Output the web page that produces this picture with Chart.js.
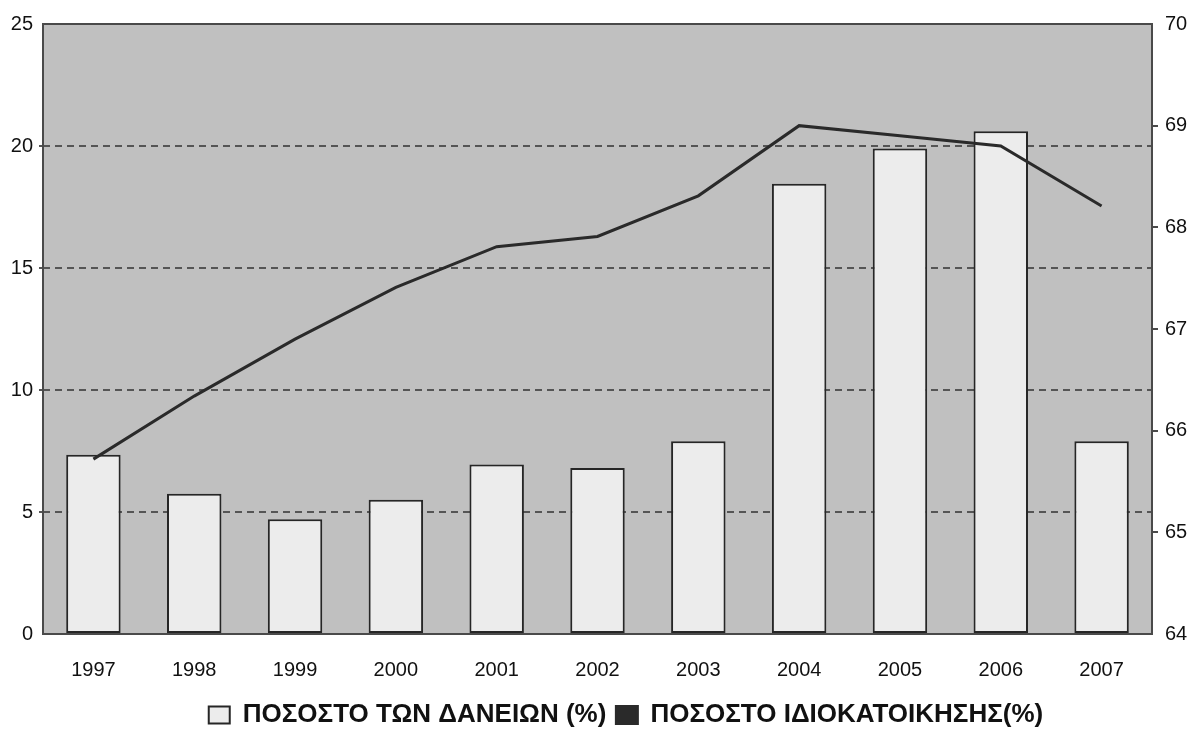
<!DOCTYPE html>
<html>
<head>
<meta charset="utf-8">
<title>Ποσοστό δανείων και ιδιοκατοίκησης 1997-2007</title>
<script src="https://cdn.jsdelivr.net/npm/chart.js@4.4.0/dist/chart.umd.min.js"></script>
<style>
  html, body { margin: 0; padding: 0; background: #fff; }
  #wrap { width: 1192px; height: 740px; }
</style>
</head>
<body>
<div id="wrap"><canvas id="myChart" width="1192" height="740"></canvas></div>
<script>
// years on the x axis
const years = ['1997', '1998', '1999', '2000', '2001', '2002', '2003', '2004', '2005', '2006', '2007'];
// bars, left axis (%)
const loanShare = [7.35, 5.75, 4.7, 5.5, 6.95, 6.8, 7.9, 18.45, 19.9, 20.6, 7.9];
// line, right axis (%)
const homeOwnership = [65.72, 66.34, 66.9, 67.41, 67.81, 67.91, 68.31, 69.0, 68.9, 68.8, 68.21];
const leftTicks = [0, 5, 10, 15, 20, 25];
const rightTicks = [64, 65, 66, 67, 68, 69, 70];

const tickFont = { family: "'Liberation Sans', Arial, sans-serif", size: 20 };

// grey plot background + dark frame around the plot area
const plotFrame = {
    id: 'plotFrame',
    beforeDraw(chart) {
        const { ctx, chartArea: a } = chart;
        ctx.save();
        ctx.fillStyle = '#c0c0c0';
        ctx.fillRect(a.left, a.top, a.width, a.height);
        ctx.restore();
    },
    beforeDatasetsDraw(chart) {
        const { ctx, chartArea: a } = chart;
        ctx.save();
        ctx.strokeStyle = '#4a4a4a';
        ctx.lineWidth = 2;
        ctx.strokeRect(a.left, a.top, a.width, a.height);
        ctx.restore();
    }
};

// legend sits a little right of centre
const legendNudge = {
    id: 'legendNudge',
    afterLayout(chart) {
        if (chart.legend) {
            chart.legend.left += 30;
            chart.legend.right += 30;
        }
    }
};

const ctx = document.getElementById('myChart').getContext('2d');

const myChart = new Chart(ctx, {
    type: 'bar',
    data: {
        labels: years,
        datasets: [{
            type: 'bar',
            label: 'ΠΟΣΟΣΤΟ ΤΩΝ ΔΑΝΕΙΩΝ (%)',
            data: loanShare,
            yAxisID: 'y',
            backgroundColor: '#ececec',
            borderColor: '#262626',
            borderWidth: 2,
            borderSkipped: false,
            categoryPercentage: 1,
            barPercentage: 0.54,
            order: 1
        }, {
            type: 'line',
            label: 'ΠΟΣΟΣΤΟ ΙΔΙΟΚΑΤΟΙΚΗΣΗΣ(%)',
            data: homeOwnership,
            yAxisID: 'y1',
            borderColor: '#2a2a2a',
            backgroundColor: '#2a2a2a',
            borderWidth: 3,
            pointRadius: 0,
            tension: 0,
            order: 0
        }]
    },
    options: {
        responsive: false,
        animation: false,
        devicePixelRatio: 1,
        layout: { padding: { top: 24, bottom: 2, left: 0, right: 0 } },
        plugins: {
            tooltip: { enabled: false },
            legend: {
                position: 'bottom',
                labels: {
                    color: '#111',
                    font: { family: "'Liberation Sans', Arial, sans-serif", size: 26, weight: 'bold' },
                    boxWidth: 21,
                    boxHeight: 17,
                    padding: 10,
                    sort: (a, b) => a.datasetIndex - b.datasetIndex
                }
            }
        },
        scales: {
            x: {
                grid: { display: false },
                border: { display: false },
                ticks: { color: '#111', font: tickFont, padding: 16, maxRotation: 0 },
                afterFit(scale) { scale.height = 58; }
            },
            y: {
                position: 'left',
                min: 0,
                max: 25,
                afterBuildTicks(scale) { scale.ticks = leftTicks.map(v => ({ value: v })); },
                grid: {
                    color: c => (c.tick && (c.tick.value === 0 || c.tick.value === 25)) ? 'rgba(0,0,0,0)' : '#555',
                    lineWidth: 2,
                    tickLength: 4
                },
                border: { display: false, dash: [7, 5] },
                ticks: { color: '#111', font: tickFont, padding: 6 },
                afterFit(scale) { scale.width = 43; }
            },
            y1: {
                position: 'right',
                min: 64,
                max: 70,
                afterBuildTicks(scale) { scale.ticks = rightTicks.map(v => ({ value: v })); },
                grid: {
                    drawOnChartArea: false,
                    color: c => (c.tick && (c.tick.value === 64 || c.tick.value === 70)) ? 'rgba(0,0,0,0)' : '#4a4a4a',
                    lineWidth: 2,
                    tickLength: 6
                },
                border: { display: false },
                ticks: { color: '#111', font: tickFont, padding: 7 },
                afterFit(scale) { scale.width = 40; }
            }
        }
    },
    plugins: [plotFrame, legendNudge]
});
</script>
</body>
</html>
